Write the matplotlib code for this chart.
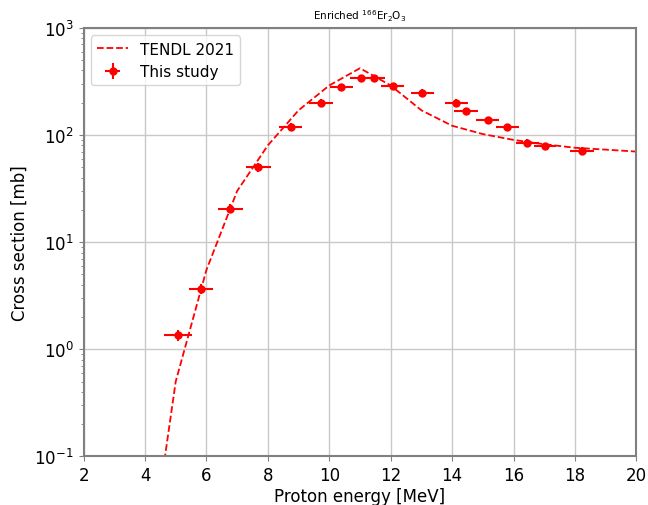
import numpy as np
import matplotlib
matplotlib.use("Agg")
import matplotlib.pyplot as plt

# TENDL 2021 evaluation
tendl_e = [4.5, 5.0, 6.0, 7.0, 8.0, 9.0, 10.0, 11.0, 12.0, 13.0, 14.0, 15.0, 16.0, 17.0, 18.0, 19.0, 20.0]
tendl_xs = [0.05, 0.5, 5.5, 30, 80, 170, 290, 420, 290, 170, 122, 102, 90, 82, 76, 73, 70]

# measured points
exp_e = [5.08, 5.82, 6.78, 7.69, 8.74, 9.73, 10.39, 11.05, 11.47, 12.07, 13.03, 14.14, 14.45, 15.16, 15.80, 16.45, 17.04, 18.23]
exp_de = [0.45, 0.40, 0.41, 0.40, 0.38, 0.38, 0.37, 0.36, 0.36, 0.38, 0.38, 0.38, 0.40, 0.38, 0.38, 0.38, 0.36, 0.38]
exp_xs = [1.35, 3.67, 20.6, 50, 119, 201, 282, 339, 339, 288, 248, 201, 167, 138, 119, 85, 78.5, 70.7]
exp_dxs = [0.15, 0.4, 2.0, 5, 10, 15, 20, 25, 25, 20, 18, 15, 12, 10, 9, 7, 6, 6]

fig = plt.figure(figsize=(6.48, 5.06), dpi=100)
ax = fig.add_axes([0.129, 0.096, 0.853, 0.847])

ax.plot(tendl_e, tendl_xs, "r--", lw=1.3, label="TENDL 2021")
ax.errorbar(exp_e, exp_xs, xerr=exp_de, yerr=exp_dxs, fmt="o", color="red",
            ms=5, elinewidth=1.5, capsize=0, label="This study")

ax.set_yscale("log")
ax.set_xlim(2, 20)
ax.set_ylim(0.1, 1000)
ax.set_xticks(np.arange(2, 21, 2))
ax.grid(True, which="major", color="#c8c8c8", lw=1)
ax.set_axisbelow(True)

for s in ax.spines.values():
    s.set_color("#808080")
    s.set_linewidth(1.5)
ax.tick_params(axis="both", which="both", colors="#808080", labelcolor="black", labelsize=12)

ax.set_xlabel("Proton energy [MeV]", fontsize=12, labelpad=2)
ax.set_ylabel("Cross section [mb]", fontsize=12)
ax.set_title("Enriched $^{166}$Er$_2$O$_3$", fontsize=7.5)
ax.legend(loc="upper left", fontsize=11)

fig.savefig("out.png", dpi=100)
